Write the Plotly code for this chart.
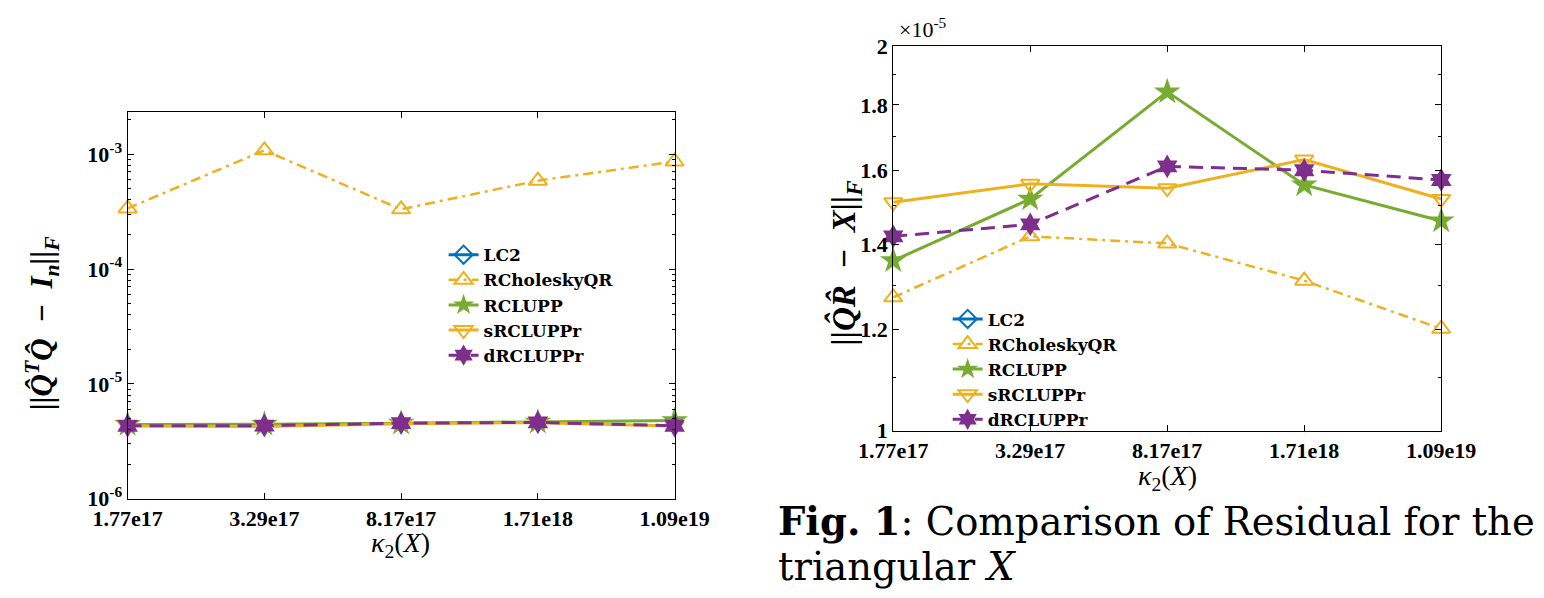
import plotly.graph_objects as go
import numpy as np

# ---------------- data ----------------
x_labels = ["1.77e17", "3.29e17", "8.17e17", "1.71e18", "1.09e19"]
x_pos = [1, 2, 3, 4, 5]

series_names = ["LC2", "RCholeskyQR", "RCLUPP", "sRCLUPPr", "dRCLUPPr"]

# left panel: ||Q^T Q - I_n||_F
orth_lc2 = [None, None, None, None, None]
orth_rchol = [3.37e-4, 1.08e-3, 3.31e-4, 5.88e-4, 8.63e-4]
orth_rclupp = [4.44e-6, 4.45e-6, 4.55e-6, 4.65e-6, 4.80e-6]
orth_srcluppr = [4.30e-6, 4.25e-6, 4.50e-6, 4.60e-6, 4.30e-6]
orth_drcluppr = [4.32e-6, 4.33e-6, 4.55e-6, 4.62e-6, 4.32e-6]

# right panel: ||QR - X||_F  (values in units of 1e-5)
res_lc2 = [None, None, None, None, None]
res_rchol = [1.272, 1.420, 1.402, 1.311, 1.202]
res_rclupp = [1.359, 1.519, 1.843, 1.558, 1.460]
res_srcluppr = [1.510, 1.561, 1.549, 1.631, 1.519]
res_drcluppr = [1.420, 1.451, 1.611, 1.600, 1.572]
res_scale = 1e-5

left_ticks = [1e-6, 1e-5, 1e-4, 1e-3]
left_ticktext = ["10<sup>-6</sup>", "10<sup>-5</sup>", "10<sup>-4</sup>", "10<sup>-3</sup>"]
right_ticks = [1.0, 1.2, 1.4, 1.6, 1.8, 2.0]
right_ticktext = ["1", "1.2", "1.4", "1.6", "1.8", "2"]

# ---------------- styles ----------------
BLUE = "#0072BD"
YELLOW = "#EDB120"
GREEN = "#77AC30"
PURPLE = "#7E2F8E"
SERIF = "Liberation Serif"
WIDE_SERIF = "DejaVu Serif"

styles = {
    "LC2": dict(color=BLUE, dash="solid", width=3, symbol="diamond-open", size=14),
    "RCholeskyQR": dict(color=YELLOW, dash="10px,5px,3px,5px", width=2.5, symbol="triangle-up-open", size=16),
    "RCLUPP": dict(color=GREEN, dash="solid", width=3, symbol="star", size=20),
    "sRCLUPPr": dict(color=YELLOW, dash="solid", width=3, symbol="triangle-down-open", size=16),
    "dRCLUPPr": dict(color=PURPLE, dash="14px,8px", width=3, symbol="hexagram", size=18),
}

W, H = 1544, 598
def px_x(p):
    return p / W
def px_y(p):
    return 1 - p / H

fig = go.Figure()

left_data = [orth_lc2, orth_rchol, orth_rclupp, orth_srcluppr, orth_drcluppr]
right_data = [res_lc2, res_rchol, res_rclupp, res_srcluppr, res_drcluppr]

for name, ys in zip(series_names, left_data):
    s = styles[name]
    open_sym = s["symbol"].endswith("open")
    fig.add_trace(go.Scatter(
        x=x_pos, y=ys, name=name, mode="lines+markers", xaxis="x", yaxis="y",
        legend="legend", cliponaxis=False,
        line=dict(color=s["color"], width=s["width"], dash=s["dash"]),
        marker=dict(symbol=s["symbol"], size=s["size"], color=s["color"],
                    line=dict(width=2 if open_sym else 0, color=s["color"])),
    ))

for name, ys in zip(series_names, right_data):
    s = styles[name]
    open_sym = s["symbol"].endswith("open")
    yv = [None if v is None else v * res_scale for v in ys]
    fig.add_trace(go.Scatter(
        x=x_pos, y=yv, name=name, mode="lines+markers", xaxis="x2", yaxis="y2",
        legend="legend2", cliponaxis=False,
        line=dict(color=s["color"], width=s["width"], dash=s["dash"]),
        marker=dict(symbol=s["symbol"], size=s["size"], color=s["color"],
                    line=dict(width=2 if open_sym else 0, color=s["color"])),
    ))

tickfont = dict(family=SERIF, size=22, color="black", weight="bold")
axis_common = dict(showline=True, linecolor="black", linewidth=1, mirror="allticks",
                   ticks="inside", ticklen=6, tickcolor="black", showgrid=False,
                   zeroline=False, tickfont=tickfont)

left_minor = [m * 10.0 ** e for e in range(-6, -2) for m in range(2, 10)]
right_minor = [1.1e-5, 1.3e-5, 1.5e-5, 1.7e-5, 1.9e-5]

legend_font = dict(family=WIDE_SERIF, size=17, color="black", weight="bold")

fig.update_layout(
    width=W, height=H, margin=dict(l=0, r=0, t=0, b=0),
    paper_bgcolor="white", plot_bgcolor="white",
    xaxis=dict(domain=[px_x(97), px_x(670)], anchor="y", range=[1, 5],
               tickvals=x_pos, ticktext=x_labels, **axis_common),
    yaxis=dict(domain=[px_y(508), px_y(104)], anchor="x", type="log",
               range=[-6, -2.63], tickvals=left_ticks, ticktext=left_ticktext,
               minor=dict(tickvals=left_minor, ticks="inside", ticklen=3, tickcolor="black"),
               **axis_common),
    xaxis2=dict(domain=[px_x(899), px_x(1473)], anchor="y2", range=[1, 5],
                tickvals=x_pos, ticktext=x_labels, **axis_common),
    yaxis2=dict(domain=[px_y(437), px_y(36)], anchor="x2", type="log",
                range=[np.log10(1e-5), np.log10(2e-5)],
                tickvals=[v * res_scale for v in right_ticks], ticktext=right_ticktext,
                minor=dict(tickvals=right_minor, ticks="inside", ticklen=3, tickcolor="black"),
                **axis_common),
    legend=dict(x=px_x(428), y=px_y(235), xanchor="left", yanchor="top",
                bgcolor="rgba(0,0,0,0)", borderwidth=0, tracegroupgap=0,
                font=legend_font, itemwidth=30),
    legend2=dict(x=px_x(956), y=px_y(302), xanchor="left", yanchor="top",
                 bgcolor="rgba(0,0,0,0)", borderwidth=0, tracegroupgap=0,
                 font=legend_font, itemwidth=30),
    showlegend=True,
)

annotations = [
    dict(text="<b><i>||Q&#770;<sup>T</sup>Q&#770;&nbsp;&nbsp;−&nbsp;&nbsp;I<sub>n</sub>||<sub>F</sub></i></b>",
         x=px_x(8), y=px_y(325), textangle=-90, font=dict(family=SERIF, size=31, color="black")),
    dict(text="<i>κ</i><sub>2</sub>(<i>X</i>)", x=px_x(383), y=px_y(556),
         font=dict(family=SERIF, size=28, color="black")),
    dict(text="<b><i>||Q&#770;R&#770;&nbsp;&nbsp;−&nbsp;&nbsp;X||<sub>F</sub></i></b>",
         x=px_x(849), y=px_y(262), textangle=-90, font=dict(family=SERIF, size=33, color="black")),
    dict(text="<i>κ</i><sub>2</sub>(<i>X</i>)", x=px_x(1186), y=px_y(486),
         font=dict(family=SERIF, size=28, color="black")),
    dict(text="×10<sup>-5</sup>", x=px_x(903), y=px_y(17), xanchor="left",
         font=dict(family=SERIF, size=22, color="black")),
    dict(text="<b>Fig. 1</b>: Comparison of Residual for the", x=px_x(776), y=px_y(532),
         xanchor="left", font=dict(family=WIDE_SERIF, size=38.5, color="black")),
    dict(text="triangular <i>X</i>", x=px_x(776), y=px_y(579),
         xanchor="left", font=dict(family=WIDE_SERIF, size=38.5, color="black")),
]
for a in annotations:
    a.setdefault("xref", "paper")
    a.setdefault("yref", "paper")
    a.setdefault("showarrow", False)
    a.setdefault("xanchor", "center")
    a.setdefault("yanchor", "middle")
fig.update_layout(annotations=annotations)

fig.write_html("out.html")
